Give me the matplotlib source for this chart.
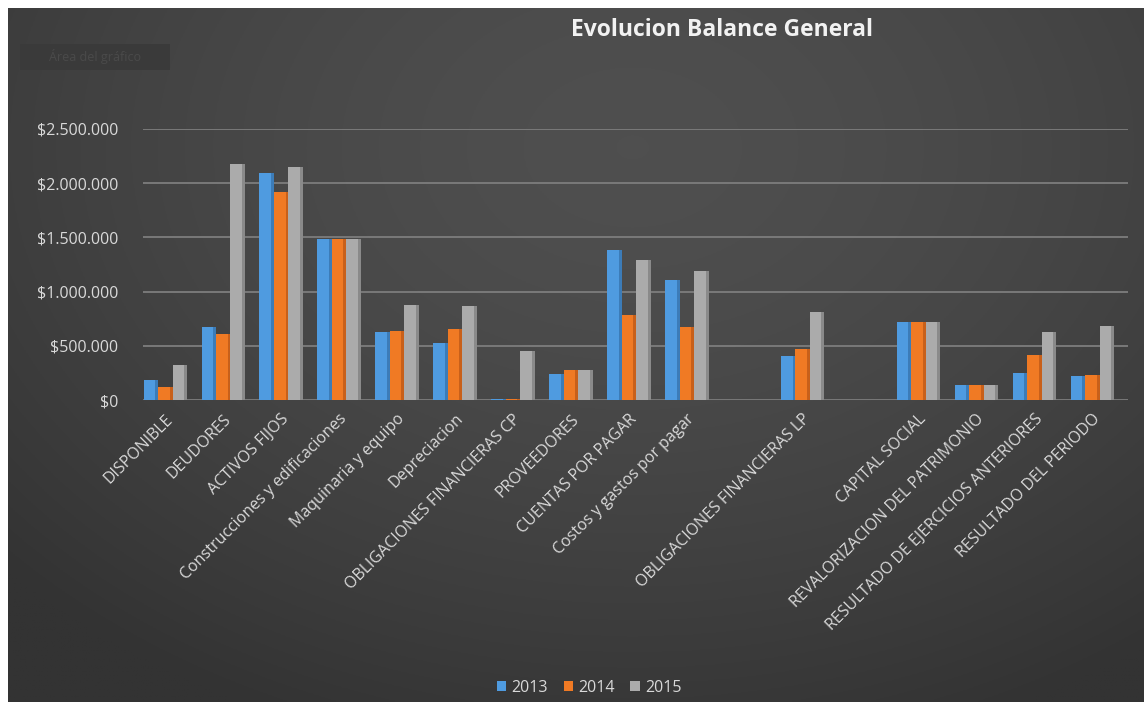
import numpy as np
import matplotlib
matplotlib.use("Agg")
from matplotlib import pyplot as plt
from matplotlib.ticker import FuncFormatter
from matplotlib.patches import FancyBboxPatch

categorias = ['DISPONIBLE', 'DEUDORES', 'ACTIVOS FIJOS', 'Construcciones y edificaciones',
              'Maquinaria y equipo', 'Depreciacion', 'OBLIGACIONES FINANCIERAS CP',
              'PROVEEDORES', 'CUENTAS POR PAGAR', 'Costos y gastos por pagar', '',
              'OBLIGACIONES FINANCIERAS LP', '', 'CAPITAL SOCIAL',
              'REVALORIZACION DEL PATRIMONIO', 'RESULTADO DE EJERCICIOS ANTERIORES',
              'RESULTADO DEL PERIODO']
v2013 = [187000, 669000, 2092000, 1488000, 629000, 529000, 5000, 243000, 1385000, 1111000,
         0, 405000, 0, 716000, 140000, 249000, 218000]
v2014 = [118000, 607000, 1915000, 1488000, 638000, 654000, 8000, 280000, 785000, 669000,
         0, 467000, 0, 716000, 140000, 411000, 234000]
v2015 = [327000, 2179000, 2148000, 1488000, 872000, 866000, 451000, 280000, 1292000, 1189000,
         0, 816000, 0, 716000, 140000, 623000, 685000]
series = [('2013', v2013, '#4f9be0', '#3c7cb8'),
          ('2014', v2014, '#f07a24', '#c8601a'),
          ('2015', v2015, '#ababab', '#8a8a8a')]

plt.rcParams['font.family'] = ['Open Sans', 'DejaVu Sans']
W, H = 1144, 702
fig = plt.figure(figsize=(W / 100, H / 100), dpi=100)
fig.patch.set_facecolor('white')

# dark radial background (chart area starts after a thin white strip top/left)
bg = fig.add_axes([8 / W, 0, 1 - 8 / W, 1 - 8 / H])
yy, xx = np.mgrid[0:1:300j, 0:1:500j]
r = np.sqrt(((xx - 0.55) / 0.75) ** 2 + ((yy - 0.2) / 0.9) ** 2)
shade = 0.31 - 0.11 * np.clip(r, 0, 1) ** 1.6
bg.imshow(np.dstack([shade] * 3), aspect='auto', extent=[0, 1, 0, 1], origin='upper')
bg.set_axis_off()

# faint "Área del gráfico" tooltip box
tip = FancyBboxPatch((20 / W, 1 - 70 / H), 150 / W, 26 / H, boxstyle='square,pad=0',
                     transform=fig.transFigure, facecolor='#3a3a3a', edgecolor='none',
                     alpha=0.9, zorder=1)
fig.patches.append(tip)
fig.text(95 / W, 1 - 57 / H, 'Área del gráfico', color='#4a4a4a', fontsize=9,
         ha='center', va='center')

ax = fig.add_axes([143 / W, 1 - 400 / H, 985 / W, 271 / H])
ax.patch.set_alpha(0)
x = np.arange(len(categorias))
bw = 0.2
side = 0.05
for i, (nombre, vals, col, dark) in enumerate(series):
    pos = x + (i - 1) * (bw + side) - 0.14
    ax.bar(pos, vals, width=bw, color=col, label=nombre, zorder=3 + i)
    ax.bar(pos + bw / 2 + side / 2, vals, width=side, color=dark, zorder=3 + i)

ax.set_ylim(0, 2500000)
ax.set_xlim(-0.5, len(categorias) - 0.5)
ax.set_yticks(np.arange(0, 2500001, 500000))
ax.yaxis.set_major_formatter(FuncFormatter(lambda v, p: '$' + f'{int(v):,}'.replace(',', '.')))
ax.grid(axis='y', color='#7d7d7d', linewidth=1.3, zorder=0)
for s in ax.spines.values():
    s.set_visible(False)
ax.tick_params(axis='both', length=0, colors='#d9d9d9', labelsize=11.5)
ax.tick_params(axis='y', pad=18)
ax.set_xticks(x - 0.12)
ax.set_xticklabels(categorias, rotation=45, ha='right', va='top', rotation_mode='anchor')
ax.tick_params(axis='x', pad=8)

fig.text(722 / W, 1 - 30 / H, 'Evolucion Balance General', color='#f2f2f2',
         fontsize=16.5, fontweight='bold', ha='center', va='center')

leg = fig.legend(loc='center', bbox_to_anchor=(589 / W, 1 - 688 / H), ncol=3,
                 frameon=False, fontsize=11.5, labelcolor='#d9d9d9', handlelength=0.6,
                 handleheight=0.6, handletextpad=0.3, columnspacing=1.0)

fig.savefig('out.png', dpi=100, facecolor=fig.get_facecolor())
